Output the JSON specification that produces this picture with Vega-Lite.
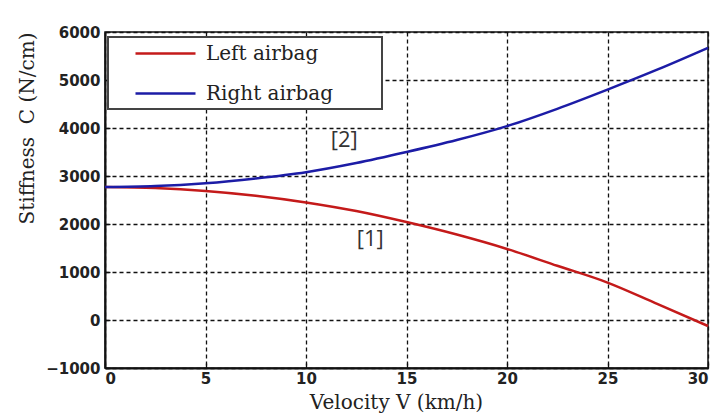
{
  "$schema": "https://vega.github.io/schema/vega-lite/v6.json",
  "width": 603,
  "height": 336,
  "autosize": "none",
  "padding": {"left": 105, "top": 32, "right": 15, "bottom": 48},
  "background": "white",
  "config": {
    "view": {"stroke": "#111", "strokeWidth": 1.5},
    "axis": {
      "grid": true,
      "gridColor": "#111",
      "gridDash": [4, 3],
      "gridWidth": 1.3,
      "gridOpacity": 1,
      "domainColor": "#111",
      "domainWidth": 2,
      "ticks": true,
      "tickSize": -5,
      "tickColor": "#111",
      "tickWidth": 1.3,
      "labelFont": "DejaVu Sans",
      "labelFontWeight": "bold",
      "labelFontSize": 15,
      "labelColor": "#222",
      "titleFont": "DejaVu Serif",
      "titleFontWeight": "normal",
      "titleFontSize": 20,
      "titleColor": "#222"
    },
    "legend": {
      "orient": "none",
      "legendX": 3,
      "legendY": 5,
      "strokeColor": "#444",
      "strokeWidth": 2,
      "fillColor": "white",
      "padding": 5,
      "symbolType": "M-3,0H3",
      "symbolSize": 400,
      "symbolStrokeWidth": 2.5,
      "symbolOffset": 41,
      "labelFont": "DejaVu Serif",
      "labelFontSize": 20,
      "labelColor": "#222",
      "labelOffset": 29,
      "labelLimit": 400,
      "rowPadding": 18,
      "title": null
    }
  },
  "datasets": {
    "curves": [
      {"series": "Left airbag", "v": 0, "c": 2770},
      {"series": "Left airbag", "v": 2.5, "c": 2750},
      {"series": "Left airbag", "v": 5, "c": 2690},
      {"series": "Left airbag", "v": 7.5, "c": 2590},
      {"series": "Left airbag", "v": 10, "c": 2450},
      {"series": "Left airbag", "v": 12.5, "c": 2270},
      {"series": "Left airbag", "v": 15, "c": 2040},
      {"series": "Left airbag", "v": 17.5, "c": 1780},
      {"series": "Left airbag", "v": 20, "c": 1480},
      {"series": "Left airbag", "v": 22.5, "c": 1130},
      {"series": "Left airbag", "v": 25, "c": 780},
      {"series": "Left airbag", "v": 27.5, "c": 330},
      {"series": "Left airbag", "v": 30, "c": -125},
      {"series": "Right airbag", "v": 0, "c": 2770},
      {"series": "Right airbag", "v": 2.5, "c": 2790},
      {"series": "Right airbag", "v": 5, "c": 2850},
      {"series": "Right airbag", "v": 7.5, "c": 2950},
      {"series": "Right airbag", "v": 10, "c": 3080},
      {"series": "Right airbag", "v": 12.5, "c": 3270},
      {"series": "Right airbag", "v": 15, "c": 3500},
      {"series": "Right airbag", "v": 17.5, "c": 3750},
      {"series": "Right airbag", "v": 20, "c": 4040},
      {"series": "Right airbag", "v": 22.5, "c": 4400},
      {"series": "Right airbag", "v": 25, "c": 4800},
      {"series": "Right airbag", "v": 27.5, "c": 5220},
      {"series": "Right airbag", "v": 30, "c": 5670}
    ],
    "notes": [
      {"v": 11.9, "c": 3750, "label": "[2]"},
      {"v": 13.2, "c": 1680, "label": "[1]"}
    ]
  },
  "layer": [
    {
      "data": {"name": "curves"},
      "mark": {"type": "line", "strokeWidth": 2.5, "interpolate": "monotone"},
      "encoding": {
        "x": {
          "field": "v", "type": "quantitative",
          "scale": {"domain": [0, 30], "nice": false},
          "axis": {"values": [0, 5, 10, 15, 20, 25, 30], "format": "d", "title": "Velocity V (km/h)", "labelPadding": 8, "titleX": 291, "titleY": 24}
        },
        "y": {
          "field": "c", "type": "quantitative",
          "scale": {"domain": [-1000, 6000], "nice": false},
          "axis": {"values": [-1000, 0, 1000, 2000, 3000, 4000, 5000, 6000], "format": "d", "title": "Stiffness \u00a0C (N/cm)\u00a0\u00a0", "labelPadding": 10, "titleAnchor": "end", "titleX": -68}
        },
        "color": {
          "field": "series", "type": "nominal",
          "scale": {"domain": ["Left airbag", "Right airbag"], "range": ["#c41a1a", "#1c1ca6"]},
          "legend": {"labelExpr": "datum.label + '\u2800\u2800\u2800'"}
        }
      }
    },
    {
      "data": {"name": "notes"},
      "mark": {"type": "text", "font": "Open Sans", "fontSize": 22, "color": "#333"},
      "encoding": {
        "x": {"field": "v", "type": "quantitative"},
        "y": {"field": "c", "type": "quantitative"},
        "text": {"field": "label"}
      }
    }
  ]
}
